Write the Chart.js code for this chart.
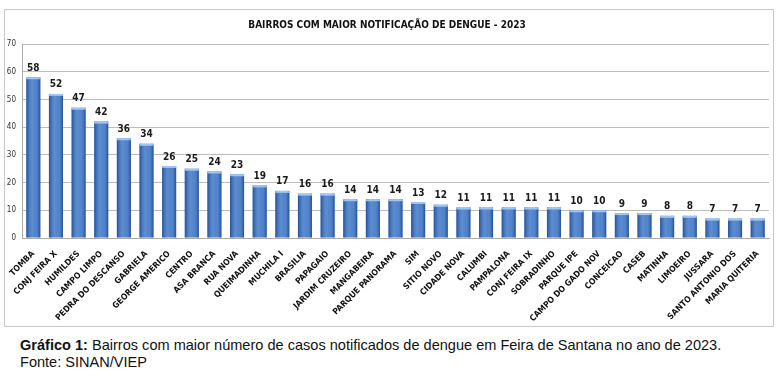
<!DOCTYPE html>
<html>
<head>
<meta charset="utf-8">
<script src="https://cdn.jsdelivr.net/npm/chart.js@4.4.0/dist/chart.umd.min.js"></script>
<style>
  body { margin: 0; background: #fff; width: 780px; height: 382px; position: relative; overflow: hidden; }
  #frame { position: absolute; left: 4px; top: 9px; width: 768px; height: 316px; border: 1px solid #c8c8c8; }
  #caption { position: absolute; left: 20px; top: 336px; font-family: "Liberation Sans", Arial, sans-serif; font-size: 15px; line-height: 17px; color: #111; transform-origin: 0 0; transform: scaleX(0.97); white-space: nowrap; }
</style>
</head>
<body>
<div id="frame"><canvas id="myChart" width="768" height="316"></canvas></div>
<div id="caption"><b>Gráfico 1:</b> Bairros com maior número de casos notificados de dengue em Feira de Santana no ano de 2023.<br>Fonte: SINAN/VIEP</div>
<script>
const bairros = ['TOMBA', 'CONJ FEIRA X', 'HUMILDES', 'CAMPO LIMPO', 'PEDRA DO DESCANSO', 'GABRIELA',
  'GEORGE AMERICO', 'CENTRO', 'ASA BRANCA', 'RUA NOVA', 'QUEIMADINHA', 'MUCHILA I', 'BRASILIA',
  'PAPAGAIO', 'JARDIM CRUZEIRO', 'MANGABEIRA', 'PARQUE PANORAMA', 'SIM', 'SITIO NOVO', 'CIDADE NOVA',
  'CALUMBI', 'PAMPALONA', 'CONJ FEIRA IX', 'SOBRADINHO', 'PARQUE IPE', 'CAMPO DO GADO NOV',
  'CONCEICAO', 'CASEB', 'MATINHA', 'LIMOEIRO', 'JUSSARA', 'SANTO ANTONIO DOS', 'MARIA QUITERIA'];
const casos = [58, 52, 47, 42, 36, 34, 26, 25, 24, 23, 19, 17, 16, 16, 14, 14, 14, 13, 12, 11,
  11, 11, 11, 11, 10, 10, 9, 9, 8, 8, 7, 7, 7];
const yTicks = [0, 10, 20, 30, 40, 50, 60, 70];

const labelFont = '"Liberation Sans Narrow", "DejaVu Sans Condensed", "Liberation Sans", sans-serif';

// shading on each bar plus the value above it
const barDecor = {
  id: 'barDecor',
  afterDatasetsDraw(chart) {
    const ctx = chart.ctx;
    const meta = chart.getDatasetMeta(0);
    meta.data.forEach((bar, i) => {
      const left = bar.x - bar.width / 2;
      const right = bar.x + bar.width / 2;
      const g = ctx.createLinearGradient(left, 0, right, 0);
      g.addColorStop(0, 'rgba(10,40,100,0.45)');
      g.addColorStop(0.45, 'rgba(255,255,255,0.2)');
      g.addColorStop(0.6, 'rgba(255,255,255,0.14)');
      g.addColorStop(1, 'rgba(10,40,100,0.5)');
      ctx.save();
      ctx.fillStyle = g;
      ctx.fillRect(left, bar.y, bar.width, bar.base - bar.y);
      ctx.fillStyle = 'rgba(170,205,245,0.9)';
      ctx.fillRect(left, bar.y, bar.width, 2);
      ctx.fillStyle = '#1a1a1a';
      ctx.font = 'bold 10px ' + labelFont;
      ctx.textAlign = 'center';
      ctx.textBaseline = 'bottom';
      ctx.fillText(casos[i], bar.x, bar.y - 4);
      ctx.restore();
    });
  }
};

const ctx = document.getElementById('myChart').getContext('2d');
new Chart(ctx, {
  type: 'bar',
  data: {
    labels: bairros,
    datasets: [{
      data: casos,
      backgroundColor: '#3370c6',
      borderWidth: 0,
      barPercentage: 0.62,
      categoryPercentage: 1
    }]
  },
  options: {
    responsive: false,
    animation: false,
    layout: { padding: { left: 0, right: 4, top: 0, bottom: 0 } },
    plugins: {
      legend: { display: false },
      tooltip: { enabled: false },
      title: {
        display: true,
        text: 'BAIRROS COM MAIOR NOTIFICAÇÃO DE DENGUE - 2023',
        color: '#111',
        font: { family: labelFont, size: 10, weight: 'bold' },
        padding: { top: 9, bottom: 13 }
      }
    },
    scales: {
      x: {
        grid: { display: false },
        border: { color: '#aaa' },
        ticks: {
          autoSkip: false,
          maxRotation: 45,
          minRotation: 45,
          color: '#111',
          padding: 3,
          font: { family: labelFont, size: 8.5, weight: 'bold' }
        },
        afterFit: (scale) => {
          scale.height = 88;
          scale.paddingLeft = 0;
          scale.paddingRight = 0;
        }
      },
      y: {
        min: 0,
        max: 70,
        afterBuildTicks: (scale) => { scale.ticks = yTicks.map(v => ({ value: v })); },
        grid: { color: '#bcbcbc', drawTicks: false },
        border: { color: '#aaa' },
        ticks: {
          color: '#333',
          padding: 6,
          font: { family: labelFont, size: 8 }
        },
        afterFit: (scale) => { scale.width = 17; }
      }
    }
  },
  plugins: [barDecor]
});
</script>
</body>
</html>
